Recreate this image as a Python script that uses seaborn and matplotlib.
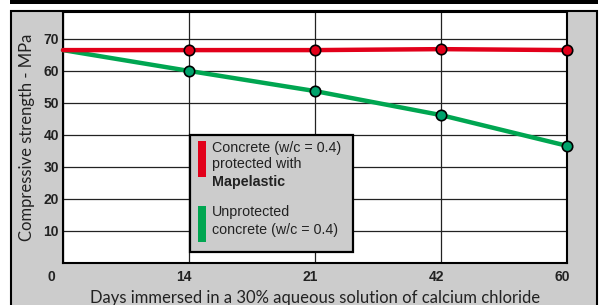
import matplotlib
matplotlib.use('Agg')
import matplotlib.pyplot as plt
from matplotlib.patches import Rectangle
from matplotlib.transforms import ScaledTranslation
import seaborn as sns
import pandas as pd

# data
days = ['0', '14', '21', '42', '60']
protected = [66.5, 66.5, 66.5, 66.8, 66.5]
unprotected = [66.5, 60.0, 53.7, 46.2, 36.6]
y_ticks = [10, 20, 30, 40, 50, 60, 70]

df = pd.DataFrame({'pos': range(len(days)), 'day': days,
                   'protected': protected, 'unprotected': unprotected})

sns.set_style('white')
plt.rcParams['font.family'] = ['Liberation Sans', 'DejaVu Sans']

RED = '#e2001a'
GREEN = '#00a651'
GREEN_DOT = '#00a36c'
PANEL = '#cccccc'

fig = plt.figure(figsize=(6, 3.05), dpi=100)
fig.patch.set_facecolor('white')

# gray framed panel + black bar on top (behind the axes)
fig.patches.append(Rectangle((11 / 600, -0.1), 586 / 600, 1.1 - 11.5 / 305,
                             transform=fig.transFigure, facecolor=PANEL,
                             edgecolor='black', lw=1.5, zorder=-5))
fig.patches.append(Rectangle((10 / 600, 1 - 3.5 / 305), 588 / 600, 0.1,
                             transform=fig.transFigure, facecolor='black',
                             edgecolor='none', zorder=-5))

ax = fig.add_axes([63 / 600, 1 - 263 / 305, 504 / 600, 251 / 305])
ax.set_facecolor('white')

# lines (green first so red sits on top at day 0)
sns.lineplot(data=df, x='pos', y='unprotected', ax=ax, color=GREEN, lw=3.2,
             marker='o', markevery=[1, 2, 3, 4], markersize=7.5,
             markerfacecolor=GREEN_DOT, markeredgecolor='black',
             markeredgewidth=1.2, clip_on=False, zorder=5)
sns.lineplot(data=df, x='pos', y='protected', ax=ax, color=RED, lw=3.2,
             marker='o', markevery=[1, 2, 3, 4], markersize=7.5,
             markerfacecolor=RED, markeredgecolor='black',
             markeredgewidth=1.2, clip_on=False, zorder=5)

ax.set_xlim(0, len(days) - 1)
ax.set_ylim(0, 78.4)
ax.set_xticks(df['pos'])
ax.set_xticklabels(days, fontsize=10, fontweight='bold', color='#222222', ha='right')
ax.set_yticks(y_ticks)
ax.set_yticklabels([str(v) for v in y_ticks], fontsize=10, fontweight='bold',
                   color='#222222')
ax.tick_params(length=0, pad=3)
ax.tick_params(axis='x', pad=5)
for i, lab in enumerate(ax.get_xticklabels()):
    dx = -8 if i == 0 else 3
    lab.set_transform(lab.get_transform() + ScaledTranslation(dx / 100, 0, fig.dpi_scale_trans))

ax.grid(True, color='#222222', lw=0.9)
for s in ax.spines.values():
    s.set_color('black')
    s.set_linewidth(1.5)

ax.set_xlabel('Days immersed in a 30% aqueous solution of calcium chloride',
              fontsize=12, family=['Lato', 'DejaVu Sans'], color='#222222',
              labelpad=4)
ax.set_ylabel('Compressive strength - MPa', fontsize=12,
              family=['Lato', 'DejaVu Sans'], color='#222222', labelpad=6)

# legend box drawn by hand (mixed bold text)
ax.add_patch(Rectangle((0.252, 0.044), 0.323, 0.466, transform=ax.transAxes,
                       facecolor=PANEL, edgecolor='black', lw=1.6, zorder=10,
                       clip_on=False))
ax.add_patch(Rectangle((0.268, 0.343), 0.016, 0.143, transform=ax.transAxes,
                       facecolor=RED, edgecolor='none', zorder=11))
ax.add_patch(Rectangle((0.268, 0.084), 0.016, 0.143, transform=ax.transAxes,
                       facecolor=GREEN, edgecolor='none', zorder=11))
narrow = ['Liberation Sans Narrow', 'Liberation Sans', 'DejaVu Sans']
leg_lines = [('Concrete (w/c = 0.4)', 0.442, 'normal'),
             ('protected with', 0.378, 'normal'),
             ('Mapelastic', 0.307, 'bold'),
             ('Unprotected', 0.187, 'normal'),
             ('concrete (w/c = 0.4)', 0.116, 'normal')]
for txt, yy, wt in leg_lines:
    ax.text(0.296, yy, txt, transform=ax.transAxes, fontsize=10.3,
            family=narrow, fontweight=wt, color='#222222', va='baseline',
            ha='left', zorder=12)

fig.savefig('out.png', dpi=100, facecolor=fig.get_facecolor())
